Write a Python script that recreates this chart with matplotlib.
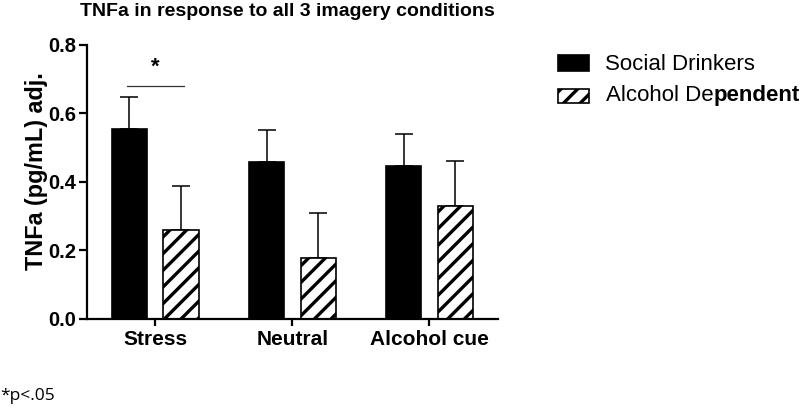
import matplotlib
matplotlib.use("Agg")
import matplotlib.pyplot as plt
import numpy as np
from matplotlib.patches import Rectangle

categories = ["Stress", "Neutral", "Alcohol cue"]
social = [0.553, 0.458, 0.445]
social_err = [0.095, 0.094, 0.093]
alcohol = [0.258, 0.178, 0.328]
alcohol_err = [0.129, 0.131, 0.132]
yticks = [0.0, 0.2, 0.4, 0.6, 0.8]

plt.rcParams['font.family'] = ['Liberation Sans', 'DejaVu Sans']
plt.rcParams['hatch.linewidth'] = 2.4

W, H = 800, 413
fig = plt.figure(figsize=(8, 4.13), dpi=100)
ax = fig.add_axes([86.7 / W, (H - 318.5) / H, (498 - 86.7) / W, (318.5 - 44.7) / H])

x = np.arange(len(categories))
bw = 0.256
off = 0.188
ax.bar(x - off, social, bw, color='black', edgecolor='black', linewidth=1.2, zorder=2)
ax.bar(x + off, alcohol, bw, color='white', edgecolor='black', linewidth=1.2,
       hatch='//', zorder=2)
ax.errorbar(x - off, social, yerr=[np.zeros(3), social_err], fmt='none',
            ecolor='black', elinewidth=1.1, capsize=6.2, capthick=1.1, zorder=1)
ax.errorbar(x + off, alcohol, yerr=[np.zeros(3), alcohol_err], fmt='none',
            ecolor='black', elinewidth=1.1, capsize=6.2, capthick=1.1, zorder=1)

ax.set_xlim(-0.5, 2.5)
ax.set_ylim(0, 0.8)
ax.set_yticks(yticks)
ax.set_yticklabels([f"{v:.1f}" for v in yticks], fontweight='bold', fontsize=14.5)
ax.set_xticks(x)
ax.set_xticklabels(categories, fontweight='bold', fontsize=15)
for s in ['top', 'right']:
    ax.spines[s].set_visible(False)
for s in ['left', 'bottom']:
    ax.spines[s].set_linewidth(1.6)
ax.tick_params(axis='y', length=6, width=1.6, pad=1.5)
ax.tick_params(axis='x', length=5, width=1.6, pad=3)

# significance
ax.plot([x[0] - off - 0.02, x[0] + off + 0.02], [0.68, 0.68], color='#333333', lw=0.9,
        clip_on=False)
ax.text(x[0], 0.735, "*", ha='center', va='center', fontsize=16, fontweight='bold')

fig.text(37 / W, 1 - 171.5 / H, "TNFa (pg/mL) adj.", rotation=90, ha='center',
         va='center', fontsize=16.8, fontweight='bold')
fig.text(80 / W, 1 - 12 / H, "TNFa in response to all 3 imagery conditions",
         ha='left', va='center', fontsize=14, fontweight='bold')
fig.text(0 / W, 1 - 396 / H, "*p<.05", ha='left', va='center', fontsize=12.5,
         family='Open Sans')

# legend
fig.patches.append(Rectangle((558.3 / W, 1 - 70.7 / H), 30.7 / W, 15.7 / H,
                             transform=fig.transFigure, facecolor='black',
                             edgecolor='black', lw=1.2))
fig.patches.append(Rectangle((558.3 / W, 1 - 102.7 / H), 30.7 / W, 13.7 / H,
                             transform=fig.transFigure, facecolor='white',
                             edgecolor='black', lw=1.2, hatch='//'))
fig.text(605 / W, 1 - 70 / H, "Social Drinkers", ha='left', va='baseline', fontsize=16)
t1 = fig.text(606 / W, 1 - 100.7 / H, "Alcohol De", ha='left', va='baseline', fontsize=16)
fig.canvas.draw()
bb = t1.get_window_extent(renderer=fig.canvas.get_renderer())
fig.text(bb.x1 / W, 1 - 100.7 / H, "pendent", ha='left', va='baseline', fontsize=16,
         fontweight='bold')

fig.savefig("out.png", dpi=100)
